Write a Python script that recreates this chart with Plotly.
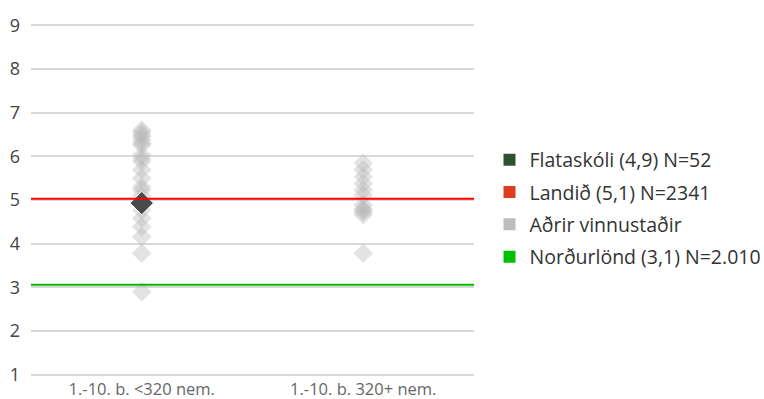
import plotly.graph_objects as go

categories = ["1.-10. b. <320 nem.", "1.-10. b. 320+ nem."]
other_small = [6.6, 6.55, 6.49, 6.45, 6.37, 6.3, 6.26, 6.03, 5.95, 5.88, 5.69, 5.5, 5.3, 5.23, 5.1, 4.77, 4.58, 4.39, 4.16, 3.78, 2.9]
other_large = [5.84, 5.69, 5.53, 5.38, 5.23, 5.11, 4.89, 4.8, 4.77, 4.72, 4.66, 3.78]
school_cat = "1.-10. b. <320 nem."
school_value = 4.93
land_value = 5.03
nordic_value = 3.06
legend_names = ["Flataskóli (4,9) N=52", "Landið (5,1) N=2341", "Aðrir vinnustaðir", "Norðurlönd (3,1) N=2.010"]
legend_colors = ["#2e5230", "#e03c1f", "#bdbdbd", "#00c000"]
y_ticks = [1, 2, 3, 4, 5, 6, 7, 8, 9]

FONT = "Open Sans"
fig = go.Figure()

ox = [categories[0]] * len(other_small) + [categories[1]] * len(other_large)
oy = other_small + other_large
fig.add_trace(go.Scatter(x=ox, y=oy, mode="markers", showlegend=False,
                         marker=dict(symbol="diamond", size=15, color="rgba(185,185,185,0.4)", line=dict(width=0)),
                         hoverinfo="y"))

# reference lines on an overlay axis
fig.add_trace(go.Scatter(x=[0, 1], y=[land_value, land_value], xaxis="x2", mode="lines",
                         line=dict(color="#ff0000", width=2), showlegend=False, hoverinfo="skip"))
fig.add_trace(go.Scatter(x=[0, 1], y=[nordic_value, nordic_value], xaxis="x2", mode="lines",
                         line=dict(color="#00bb00", width=2), showlegend=False, hoverinfo="skip"))

fig.add_trace(go.Scatter(x=[school_cat], y=[school_value], mode="markers", showlegend=False,
                         marker=dict(symbol="diamond", size=18, color="#4a4a4a", line=dict(width=1, color="#ffffff"))))

# legend-only entries
for i, (name, col) in enumerate(zip(legend_names, legend_colors)):
    fig.add_trace(go.Scatter(x=[None], y=[None], mode="markers", name=name, legendgroup=f"g{i}",
                             marker=dict(symbol="square", size=14, color=col)))

fig.update_layout(
    width=764, height=399,
    margin=dict(l=31, r=290, t=23, b=22, autoexpand=False),
    paper_bgcolor="white", plot_bgcolor="white",
    font=dict(family=FONT, color="#444444"),
    xaxis=dict(type="category", categoryarray=categories, categoryorder="array", range=[-0.5, 1.5],
               showgrid=False, zeroline=False, showline=False, ticks="", automargin=False,
               tickfont=dict(size=16.5, color="#666666"), fixedrange=True),
    xaxis2=dict(overlaying="x", range=[0, 1], visible=False, fixedrange=True),
    yaxis=dict(range=[0.95, 9.05], tickvals=y_ticks, showgrid=True, gridcolor="#d9d9d9", gridwidth=1.5,
               zeroline=False, showline=False, ticks="", ticklabelstandoff=10, automargin=False,
               tickfont=dict(size=18, color="#444444"), fixedrange=True),
    legend=dict(x=1.035, xanchor="left", y=0.476, yanchor="middle",
                font=dict(size=19.5, color="#333333", family=FONT),
                itemsizing="constant", tracegroupgap=4, bgcolor="rgba(0,0,0,0)"),
    showlegend=True,
)

fig.write_html("out.html", config={"displayModeBar": False},
               post_script="document.body.style.margin='0';document.body.style.padding='0';")
